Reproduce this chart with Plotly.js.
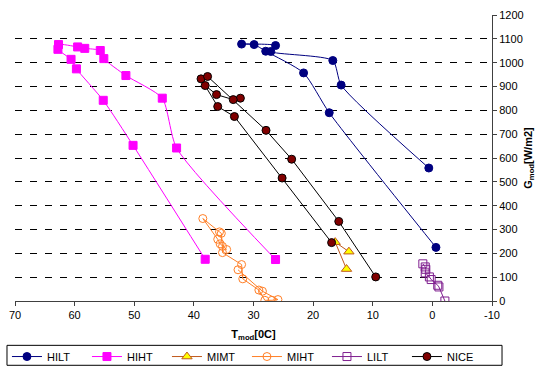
<!DOCTYPE html>
<html>
<head>
<meta charset="utf-8">
<script src="https://cdn.plot.ly/plotly-3.0.1.min.js"></script>
<style>html,body{margin:0;padding:0;background:#fff;}#chart{width:536px;height:367px;}</style>
</head>
<body>
<div id="chart"></div>
<script>
// Series data (T_mod in °C, G_mod in W/m2)
const hiltT = [0.6, 15.3, 16.7, 27.1, 26.3, 32.0, 29.9, 27.95, 21.6, 17.3, -0.6];
const hiltG = [558, 906, 1009, 1047, 1072, 1078, 1076, 1048, 957, 790, 225];

const hihtT = [38.1, 50.2, 55.2, 59.7, 60.6, 62.8, 62.7, 59.5, 58.3, 55.7, 55.1, 51.4, 45.3, 42.9, 26.3];
const hihtG = [175, 653, 842, 974, 1014, 1056, 1076, 1066, 1060, 1051, 1017, 946, 851, 642, 174];

const mimtT = [14.0, 16.3, 14.4];
const mimtG = [207, 247, 134];

const mihtT = [34.5, 35.6, 36.0, 38.5, 35.7, 35.4, 35.2, 35.2, 32.0, 31.8, 29.1, 28.1, 26.9, 25.9, 28.5, 32.6];
const mihtG = [216, 240, 259, 346, 290, 284, 229, 203, 153, 93, 46, 3, 3, 6, 41, 131];

const liltT = [1.6, 1.2, 1.1, 1.2, 0.5, 0.2, -0.9, -1.1, -2.1];
const liltG = [156, 143, 133, 118, 101, 90, 66, 59, 0];

const niceT = [32.2, 33.4, 36.2, 38.1, 38.8, 36.0, 33.2, 25.2, 16.9, null, 37.7, 27.9, 23.6, 15.7, 9.5];
const niceG = [851, 845, 866, 904, 932, 816, 774, 516, 245, null, 942, 716, 595, 334, 101];

const xTicks = [70, 60, 50, 40, 30, 20, 10, 0, -10];
const yTicks = [0, 100, 200, 300, 400, 500, 600, 700, 800, 900, 1000, 1100, 1200];

const FONT = 'Liberation Sans, Arial, sans-serif';

const traces = [
  {name: 'HILT', x: hiltT, y: hiltG, mode: 'lines+markers',
   line: {color: '#000080', width: 1, shape: 'spline', smoothing: 0.6},
   marker: {symbol: 'circle', size: 8, color: '#000080', line: {color: '#000080', width: 1}}},
  {name: 'HIHT', x: hihtT, y: hihtG, mode: 'lines+markers',
   line: {color: '#FF00FF', width: 1, shape: 'spline', smoothing: 0.6},
   marker: {symbol: 'square', size: 8, color: '#FF00FF', line: {color: '#FF00FF', width: 1}}},
  {name: 'MIMT', x: mimtT, y: mimtG, mode: 'lines+markers',
   line: {color: '#C0581C', width: 1},
   marker: {symbol: 'triangle-up', size: 9, color: '#FFFF00', line: {color: '#C0581C', width: 1}}},
  {name: 'MIHT', x: mihtT, y: mihtG, mode: 'lines+markers',
   line: {color: '#FF7F27', width: 1},
   marker: {symbol: 'circle-open', size: 8, color: '#FF7F27', line: {color: '#FF7F27', width: 1}}},
  {name: 'LILT', x: liltT, y: liltG, mode: 'lines+markers',
   line: {color: '#7F1F8F', width: 1},
   marker: {symbol: 'square-open', size: 8, color: '#7F1F8F', line: {color: '#7F1F8F', width: 1}}},
  {name: 'NICE', x: niceT, y: niceG, mode: 'lines+markers', connectgaps: false,
   line: {color: '#000000', width: 1},
   marker: {symbol: 'circle', size: 8, color: '#800000', line: {color: '#000000', width: 1}}}
];

const layout = {
  width: 536, height: 367,
  margin: {l: 15, r: 44, t: 15, b: 66, autoexpand: false},
  paper_bgcolor: '#fff', plot_bgcolor: '#fff',
  font: {family: FONT, size: 11, color: '#000'},
  showlegend: true,
  xaxis: {
    range: [70, -10], tickvals: xTicks, ticktext: xTicks.map(String),
    showgrid: false, zeroline: false,
    showline: true, linecolor: '#404040', linewidth: 1,
    ticks: 'outside', ticklen: 4, tickcolor: '#404040',
    tickfont: {family: FONT, size: 11, color: '#000'},
    title: {text: '<b>T<sub>mod</sub>[0C]</b>', font: {family: FONT, size: 11, color: '#000'}, standoff: 13}
  },
  yaxis: {
    side: 'right', range: [0, 1200], tickvals: yTicks, ticktext: yTicks.map(String),
    showgrid: true, gridcolor: '#000', gridwidth: 1, griddash: '7px,8px',
    zeroline: false,
    showline: true, linecolor: '#404040', linewidth: 1,
    ticks: 'outside', ticklen: 4, tickcolor: '#404040',
    tickfont: {family: FONT, size: 11, color: '#000'},
    title: {text: '<b>G<sub>mod</sub>[W/m2]</b>', font: {family: FONT, size: 11, color: '#000'}, standoff: 5}
  },
  legend: {
    orientation: 'h', xref: 'container', yref: 'container',
    x: 0.013, xanchor: 'left', y: 0.068, yanchor: 'top',
    borderwidth: 0, bgcolor: 'rgba(0,0,0,0)',
    font: {family: FONT, size: 11, color: '#000'},
    entrywidth: 35, entrywidthmode: 'pixels',
    tracegroupgap: 0, itemwidth: 30
  },
  shapes: [{
    type: 'rect', xref: 'paper', yref: 'paper',
    x0: -0.0168, x1: 1.021, y0: -0.2248, y1: -0.155,
    line: {color: '#000', width: 1}, fillcolor: 'rgba(0,0,0,0)', layer: 'above'
  }]
};

Plotly.newPlot('chart', traces, layout, {displayModeBar: false, staticPlot: true});
</script>
</body>
</html>
